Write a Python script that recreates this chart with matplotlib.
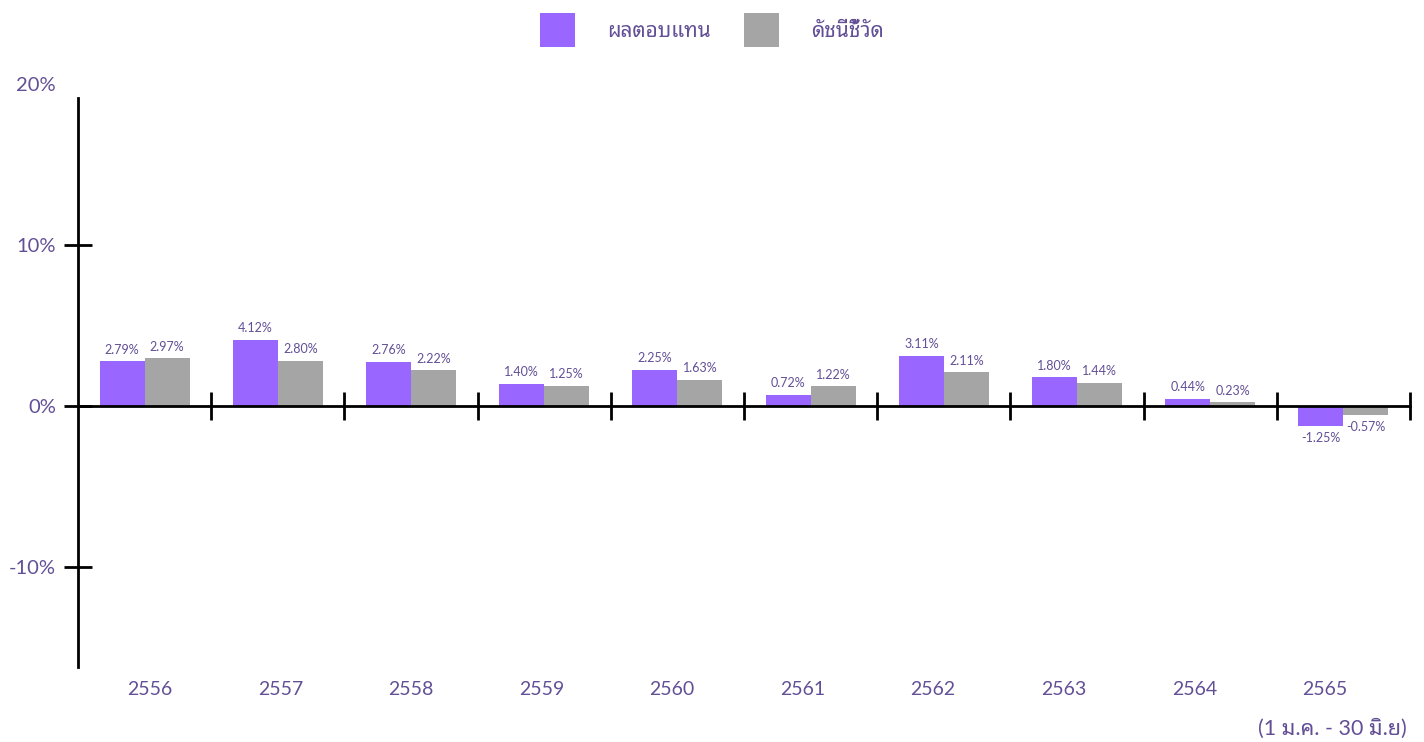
import matplotlib
matplotlib.use('Agg')
import matplotlib.pyplot as plt
import numpy as np

years = ['2556', '2557', '2558', '2559', '2560', '2561', '2562', '2563', '2564', '2565']
fund_ret = [2.79, 4.12, 2.76, 1.40, 2.25, 0.72, 3.11, 1.80, 0.44, -1.25]
bench_ret = [2.97, 2.80, 2.22, 1.25, 1.63, 1.22, 2.11, 1.44, 0.23, -0.57]
y_ticks = [-10, 0, 10, 20]
legend_labels = ['ผลตอบแทน', 'ดัชนีชี้วัด']
note = '(1 ม.ค. - 30 มิ.ย)'

PURPLE = '#9966ff'
GRAY = '#a5a5a5'
TXT = '#634f96'
FONT = ['Lato', 'Noto Sans Thai Looped', 'DejaVu Sans']
plt.rcParams['font.family'] = FONT

fig = plt.figure(figsize=(14.24, 7.42), dpi=100)
ax = fig.add_axes([78 / 1424, 75 / 742, (1410 - 78) / 1424, (667 - 84) / 742])

x = np.arange(len(years))
w = 0.338
b1 = ax.bar(x - w / 2, fund_ret, w, color=PURPLE, label=legend_labels[0])
b2 = ax.bar(x + w / 2, bench_ret, w, color=GRAY, label=legend_labels[1])

fmt = lambda v: f'{v:.2f}%'
ax.bar_label(b1, labels=[fmt(v) for v in fund_ret], padding=4, fontsize=9, color=TXT)
ax.bar_label(b2, labels=[fmt(v) for v in bench_ret], padding=4, fontsize=9, color=TXT)

ax.set_xlim(-0.5, len(years) - 0.5)
ax.set_ylim(-16.2, 20)

for s in ['top', 'right']:
    ax.spines[s].set_visible(False)
ax.spines['bottom'].set_position(('data', 0))
ax.spines['bottom'].set_linewidth(2)
ax.spines['left'].set_linewidth(2)
ax.spines['left'].set_bounds(-16.2, 19.1)

ax.set_xticks(x + 0.5)
ax.set_xticklabels([])
ax.tick_params(axis='x', direction='inout', length=20, width=2)

ax.set_yticks(y_ticks)
ax.set_yticklabels([f'{t}%' for t in y_ticks])
ax.tick_params(axis='y', direction='inout', length=20, width=2, pad=6,
               labelsize=14.5, labelcolor=TXT)
ax.yaxis.get_major_ticks()[-1].tick1line.set_visible(False)

# year labels sit slightly off the group centres in the original
label_x = np.linspace(0.04, len(years) - 1.14, len(years))
for lx, yr in zip(label_x, years):
    ax.annotate(yr, xy=(lx, 0), xycoords=('data', 'axes fraction'),
                xytext=(0, -16), textcoords='offset points',
                ha='center', va='center', fontsize=14, color=TXT)

fig.text(1407 / 1424, 1 - 729 / 742, note, ha='right', va='center',
         fontsize=15.5, color=TXT)

fig.legend(handles=[b1, b2], loc='center', bbox_to_anchor=(712 / 1424, 1 - 30 / 742),
           ncol=2, frameon=False, fontsize=15, labelcolor=TXT,
           handlelength=1.68, handleheight=2.1, handletextpad=1.54,
           columnspacing=1.6)

fig.savefig('out.png', dpi=100)
